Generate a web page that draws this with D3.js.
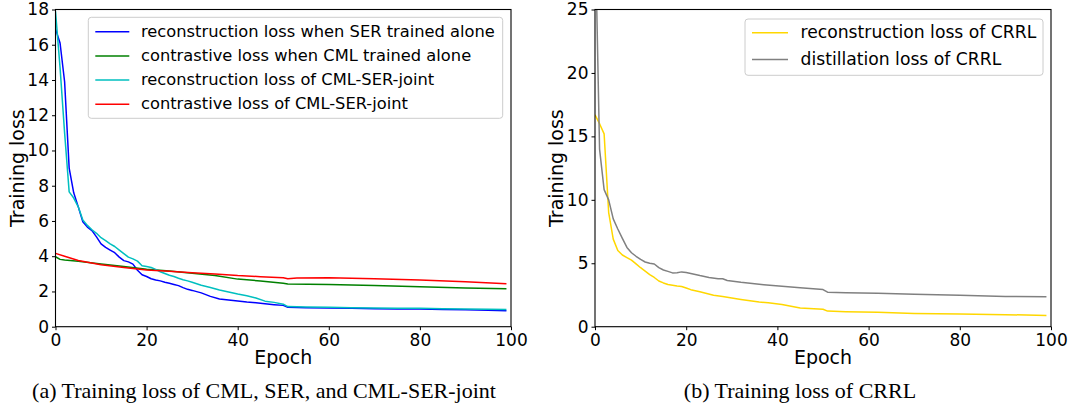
<!DOCTYPE html>
<html>
<head>
<meta charset="utf-8">
<script src="https://cdn.jsdelivr.net/npm/d3@7"></script>
<style>
  body { margin: 0; background: #fff; }
  svg { display: block; }
  .tick text { font-family: "DejaVu Sans", sans-serif; font-size: 17px; fill: #000; }
  .axis path, .axis line { stroke: #000; }
</style>
</head>
<body>
<svg id="fig" width="1071" height="413"></svg>
<script>
// ---- panel (a): CML, SER, CML-SER-joint ----
const serEpochs = [0,1,2,3,4,5,6,7,8,9,10,11,12,13,14,15,16,17,18,19,20,21,22,23,24,25,26,27,28,29,30,
    32,34,36,38,40,42,44,46,48,50,51,55,60,65,70,75,80,85,90,95,99];
const serAloneLoss = [16.9,16.1,13.9,9.0,7.6,6.8,5.95,5.65,5.45,5.1,4.7,4.5,4.35,4.2,3.95,3.75,3.68,3.55,3.2,2.95,
    2.85,2.72,2.65,2.6,2.52,2.46,2.4,2.33,2.22,2.12,2.06,
    1.92,1.72,1.57,1.51,1.46,1.4,1.36,1.3,1.25,1.21,1.1,1.08,1.06,1.04,1.02,1.01,1.0,0.98,0.96,0.93,0.9];
const jointReconLoss = [17.9,14.7,11.0,7.65,7.3,6.8,6.05,5.75,5.5,5.3,5.05,4.88,4.7,4.55,4.35,4.15,3.95,3.85,3.72,3.46,
    3.42,3.36,3.25,3.12,3.02,2.92,2.85,2.75,2.66,2.6,2.52,
    2.35,2.22,2.08,1.97,1.85,1.76,1.63,1.45,1.38,1.28,1.14,1.12,1.1,1.08,1.06,1.05,1.04,1.02,1.0,0.99,0.98];

const cmlEpochs = [0,1,2,5,10,15,20,25,30,35,40,45,50,51,60,70,80,90,99];
const cmlAloneLoss = [3.97,3.82,3.78,3.72,3.56,3.41,3.26,3.16,3.03,2.9,2.7,2.6,2.46,2.42,2.4,2.34,2.27,2.2,2.15];

const jointCtrEpochs = [0,2,5,10,15,20,25,30,35,40,45,50,51,53,60,70,80,90,99];
const jointCtrLoss = [4.16,4.0,3.76,3.51,3.36,3.22,3.15,3.06,2.99,2.9,2.84,2.78,2.72,2.76,2.78,2.72,2.65,2.55,2.44];

// ---- panel (b): CRRL ----
const distEpochs = [0,1,2,3,4,5,6,7,8,9,10,11,12,13,14,15,16,17,18,19,20,21,23,25,27,28,29,32,37,41,45,50,51,55,62,70,80,90,99];
const distLoss = [32,14,10.8,10.0,8.5,7.7,6.96,6.25,5.83,5.55,5.3,5.1,5.0,4.94,4.65,4.47,4.36,4.24,4.25,4.32,4.28,4.2,
    4.03,3.88,3.77,3.78,3.64,3.5,3.31,3.18,3.07,2.93,2.72,2.68,2.63,2.55,2.47,2.39,2.36];

const crrlEpochs = [0,1,2,3,4,5,6,7,8,9,10,11,12,13,14,15,16,17,18,19,20,21,23,26,28,32,36,38,41,45,50,51,55,62,70,80,90,99];
const crrlReconLoss = [16.7,16.0,15.2,9.0,6.9,6.0,5.65,5.45,5.25,4.95,4.65,4.38,4.1,3.88,3.6,3.45,3.32,3.26,3.2,3.17,3.05,2.92,
    2.76,2.48,2.38,2.15,1.94,1.88,1.75,1.48,1.38,1.23,1.18,1.13,1.05,1.0,0.95,0.89];

const xTicks = [0,20,40,60,80,100];
const yTicksA = [0,2,4,6,8,10,12,14,16,18];
const yTicksB = [0,5,10,15,20,25];

const svg = d3.select('#fig');

function drawPanel(p) {
    const x = d3.scaleLinear().domain([0, 100]).range([p.left, p.right]);
    const y = d3.scaleLinear().domain([0, p.ymax]).range([p.bottom, p.top]);

    svg.append('clipPath').attr('id', p.id + 'clip')
        .append('rect')
        .attr('x', p.left).attr('y', p.top)
        .attr('width', p.right - p.left).attr('height', p.bottom - p.top);

    const line = d3.line().x(d => x(d[0])).y(d => y(d[1]));

    // curves
    const lines = svg.append('g').attr('clip-path', `url(#${p.id}clip)`);
    p.series.forEach(s => {
        lines.append('path')
            .datum(s.epochs.map((e, i) => [e, s.values[i]]))
            .attr('fill', 'none')
            .attr('stroke', s.color)
            .attr('stroke-width', 1.5)
            .attr('stroke-linejoin', 'round')
            .attr('d', line);
    });

    // axes
    svg.append('g')
        .attr('class', 'axis')
        .attr('transform', `translate(0,${p.bottom})`)
        .call(d3.axisBottom(x).tickValues(xTicks).tickSize(3.5).tickPadding(4))
        .select('.domain').remove();
    svg.append('g')
        .attr('class', 'axis')
        .attr('transform', `translate(${p.left},0)`)
        .call(d3.axisLeft(y).tickValues(p.yTicks).tickSize(3.5).tickPadding(3))
        .select('.domain').remove();

    // frame
    svg.append('rect')
        .attr('x', p.left).attr('y', p.top)
        .attr('width', p.right - p.left).attr('height', p.bottom - p.top)
        .attr('fill', 'none').attr('stroke', '#000').attr('stroke-width', 1.1);

    // axis labels
    svg.append('text')
        .attr('x', (p.left + p.right) / 2).attr('y', p.bottom + 37)
        .attr('text-anchor', 'middle')
        .style('font-family', '"DejaVu Sans", sans-serif').style('font-size', '19px')
        .text('Epoch');
    svg.append('text')
        .attr('transform', `translate(${p.left - 32},${(p.top + p.bottom) / 2}) rotate(-90)`)
        .attr('text-anchor', 'middle')
        .style('font-family', '"DejaVu Sans", sans-serif').style('font-size', '19px')
        .text('Training loss');

    // legend
    const lg = p.legend;
    const leg = svg.append('g');
    leg.append('rect')
        .attr('x', lg.x).attr('y', lg.y)
        .attr('width', lg.w).attr('height', lg.h)
        .attr('rx', 3)
        .attr('fill', 'rgba(255,255,255,0.8)')
        .attr('stroke', '#cccccc').attr('stroke-width', 1);
    p.series.forEach((s, i) => {
        const cy = lg.row0 + i * lg.step;
        leg.append('line')
            .attr('x1', lg.x + 7).attr('x2', lg.x + 7 + lg.handle)
            .attr('y1', cy).attr('y2', cy)
            .attr('stroke', s.color).attr('stroke-width', 1.5);
        leg.append('text')
            .attr('x', lg.textX).attr('y', cy)
            .attr('dy', '0.3em')
            .style('font-family', '"DejaVu Sans", sans-serif').style('font-size', lg.font + 'px')
            .text(s.name);
    });

    // caption
    svg.append('text')
        .attr('x', p.captionX).attr('y', 398)
        .attr('text-anchor', 'middle')
        .style('font-family', '"Liberation Serif", "Times New Roman", serif').style('font-size', '22px')
        .text(p.caption);
}

drawPanel({
    id: 'a', left: 55.5, right: 511, top: 9.5, bottom: 326.7, ymax: 18, yTicks: yTicksA,
    series: [
        { name: 'reconstruction loss when SER trained alone', epochs: serEpochs, values: serAloneLoss, color: '#0000ff' },
        { name: 'contrastive loss when CML trained alone', epochs: cmlEpochs, values: cmlAloneLoss, color: '#008000' },
        { name: 'reconstruction loss of CML-SER-joint', epochs: serEpochs, values: jointReconLoss, color: '#00bfbf' },
        { name: 'contrastive loss of CML-SER-joint', epochs: jointCtrEpochs, values: jointCtrLoss, color: '#ff0000' }
    ],
    legend: { x: 88.3, y: 17.3, w: 414.4, h: 101, row0: 31.7, step: 24.2, handle: 34, textX: 141, font: 16.3 },
    caption: '(a) Training loss of CML, SER, and CML-SER-joint', captionX: 264
});

drawPanel({
    id: 'b', left: 595, right: 1051, top: 9.5, bottom: 326.7, ymax: 25, yTicks: yTicksB,
    series: [
        { name: 'reconstruction loss of CRRL', epochs: crrlEpochs, values: crrlReconLoss, color: '#ffd700' },
        { name: 'distillation loss of CRRL', epochs: distEpochs, values: distLoss, color: '#808080' }
    ],
    legend: { x: 745, y: 19, w: 298, h: 56.3, row0: 32.8, step: 26.6, handle: 36, textX: 800.5, font: 17.2 },
    caption: '(b) Training loss of CRRL', captionX: 800
});
</script>
</body>
</html>
